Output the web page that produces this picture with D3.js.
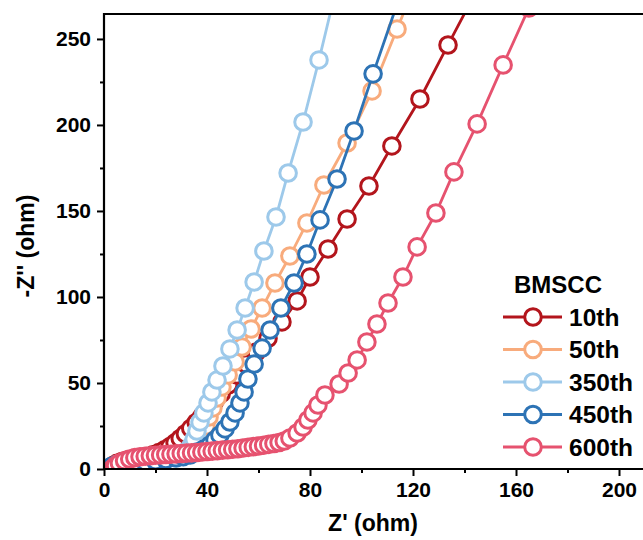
<!DOCTYPE html>
<html>
<head>
<meta charset="utf-8">
<script src="https://cdn.jsdelivr.net/npm/d3@7"></script>
<style>
  html, body { margin: 0; padding: 0; background: #fff; }
  svg text { font-family: "Liberation Sans", Arial, sans-serif; font-weight: bold; fill: #000; }
</style>
</head>
<body>
<svg id="chart" width="643" height="540"></svg>
<script>
// ---- data (Z', -Z'') ----
const seriesNames = ["10th", "50th", "350th", "450th", "600th"];
const seriesColors = ["#B3151C", "#F8AB7C", "#9DC9EA", "#2D73B5", "#E6526F"];

const s10th = [[2.5,0.5],[3.5,2],[5,3.3],[7,4.4],[9,5.2],[11.5,5.9],[14,6.5],[16.5,7.2],[19,8.2],[21.3,9.5],[23.5,11.1],[25.6,13],[27.6,15.2],[29.6,17.7],[31.6,20.5],[33.7,23.6],[35.8,27],[38,30.6],[40.3,34.6],[42.8,39],[45.5,43.8],[48.4,49],[51.6,54.7],[55.2,61],[59.2,68],[63.7,76],[69.1,85.5],[75,97.7],[80,111.6],[87,127.9],[94.4,145.3],[102.9,164.5],[111.8,187.8],[122.7,215.1],[133.6,246.5],[145,279]];

const s50th = [[3,0.3],[4,1.3],[5.5,2.4],[7.5,3.4],[10,4.2],[13,4.8],[16,5.3],[19,5.7],[22,6.1],[25,6.5],[28.7,7],[31.5,8.1],[33.8,9.9],[35.7,12.8],[37.3,16.3],[38.4,20.3],[39.6,25],[40.8,30.2],[42.3,35.5],[43.9,41.3],[45.8,47.7],[48.2,54.7],[50.9,62.2],[53.6,70.9],[57.1,81.4],[61.4,93.6],[66.4,108.1],[72.2,123.8],[78.8,143],[85.4,165.1],[94.4,189.5],[104.1,219.8],[113.8,255.8],[118,271]];

const s350th = [[2.5,0.3],[3.5,1.6],[5,2.7],[7,3.6],[9.5,4.3],[12.5,4.8],[15.5,5.2],[18.5,5.5],[21.5,5.8],[24.5,6.1],[28,6.4],[30.3,8.1],[32.2,10.5],[33.8,13.4],[35,17.4],[36.1,22.1],[37.3,27.3],[38.8,32.6],[40.4,38.4],[41.9,44.8],[43.9,51.7],[46.2,59.9],[48.9,69.8],[51.7,80.8],[54.8,93.6],[58.3,108.7],[62.1,126.7],[66.8,146.5],[71.5,172.1],[77.3,201.7],[83.5,237.8],[89,272]];

const s450th = [[1.5,0.4],[3,1.6],[5,2.6],[8,3.3],[12,3.8],[16,4.2],[20,4.8],[24,5.5],[28,6.5],[30.8,7.2],[33.4,8.1],[36.1,9.9],[38.8,11.6],[41.2,14],[43.1,16.9],[45,19.8],[47,23.3],[48.9,27.3],[50.9,32.6],[52.8,38.4],[54.4,44.8],[55.9,52.3],[58.3,61],[61.4,70.3],[64.5,80.8],[68.7,93.6],[73.8,108.1],[78.8,125],[83.9,144.8],[90.5,168.6],[97.1,196.5],[104.5,229.7],[114,271]];

const s600th = [[3.5,0.5],[4.5,2],[6,3.5],[8,4.8],[10,5.8],[12,6.6],[14,7.1],[16,7.4],[18,7.7],[20,8],[22,8.2],[24,8.4],[26,8.6],[28,8.8],[30,9],[32,9.2],[34,9.4],[36,9.6],[38,9.9],[40,10.2],[42,10.4],[44,10.7],[46,11],[48,11.2],[50,11.5],[52,11.8],[54,12.2],[56,12.6],[58,13],[60,13.4],[62,13.8],[64,14.3],[66,14.8],[68,15.4],[70,16.3],[72.2,18],[75,20.9],[77.3,24.4],[79.2,28.5],[81.2,32.6],[83.1,37.2],[85.8,43],[91.3,49.4],[94.8,55.8],[98.3,63.4],[102.1,73.8],[106,84.3],[110.3,96.5],[116.1,111.6],[121.6,129.1],[128.9,148.8],[135.9,172.7],[144.9,200.6],[155,234.9],[165,268]];

const allSeries = [s10th, s50th, s350th, s450th, s600th];

const xMajorTicks = [0, 40, 80, 120, 160, 200];
const xMinorTicks = [20, 60, 100, 140, 180];
const yMajorTicks = [0, 50, 100, 150, 200, 250];
const yMinorTicks = [25, 75, 125, 175, 225];
const xTitle = "Z' (ohm)";
const yTitle = "-Z'' (ohm)";
const legendTitle = "BMSCC";

(function draw() {
  // ---- layout ----
  const pL = 104, pT = 14, pB = 469;
  const x = d3.scaleLinear().domain([0, 210]).range([pL, pL + 2.575 * 210]);
  const y = d3.scaleLinear().domain([0, 264.5]).range([pB, pT]);
  const R = 8.3, SW = 3, LW = 2.8;

  const svg = d3.select("#chart");

  svg.append("defs").append("clipPath").attr("id", "plotclip")
    .append("rect").attr("x", pL).attr("y", pT)
    .attr("width", 643 - pL).attr("height", pB - pT);

  const plot = svg.append("g").attr("clip-path", "url(#plotclip)");
  const line = d3.line().x(d => x(d[0])).y(d => y(d[1]));

  allSeries.forEach((data, i) => {
    const g = plot.append("g");
    g.append("path").datum(data)
      .attr("d", line).attr("fill", "none")
      .attr("stroke", seriesColors[i]).attr("stroke-width", LW);
    g.selectAll("circle").data(data).join("circle")
      .attr("cx", d => x(d[0])).attr("cy", d => y(d[1]))
      .attr("r", R).attr("fill", "#fff")
      .attr("stroke", seriesColors[i]).attr("stroke-width", SW);
  });

  // ---- axes ----
  const xAxis = svg.append("g").attr("transform", `translate(0,${pB})`)
    .call(d3.axisBottom(x).tickValues(xMajorTicks).tickSize(7).tickPadding(6).tickFormat(d3.format("d")));
  const xMinor = svg.append("g").attr("transform", `translate(0,${pB})`)
    .call(d3.axisBottom(x).tickValues(xMinorTicks).tickSize(4).tickFormat(""));
  const yAxis = svg.append("g").attr("transform", `translate(${pL},0)`)
    .call(d3.axisLeft(y).tickValues(yMajorTicks).tickSize(7).tickPadding(6).tickFormat(d3.format("d")));
  const yMinor = svg.append("g").attr("transform", `translate(${pL},0)`)
    .call(d3.axisLeft(y).tickValues(yMinorTicks).tickSize(4).tickFormat(""));

  [xAxis, xMinor, yAxis, yMinor].forEach(a => {
    a.select(".domain").remove();
    a.selectAll(".tick line").attr("stroke", "#000").attr("stroke-width", 2);
    a.selectAll(".tick text").style("font-size", "21px");
  });

  // frame lines (left, bottom, top)
  svg.append("line").attr("x1", pL).attr("x2", pL).attr("y1", pT - 1).attr("y2", pB + 1)
    .attr("stroke", "#000").attr("stroke-width", 2.2);
  svg.append("line").attr("x1", pL - 1).attr("x2", 643).attr("y1", pB).attr("y2", pB)
    .attr("stroke", "#000").attr("stroke-width", 2.2);
  svg.append("line").attr("x1", pL - 1).attr("x2", 643).attr("y1", pT).attr("y2", pT)
    .attr("stroke", "#000").attr("stroke-width", 2.2);

  // axis titles
  svg.append("text").attr("x", 373).attr("y", 531).attr("text-anchor", "middle")
    .style("font-size", "23px").text(xTitle);
  svg.append("text").attr("transform", "translate(34,246) rotate(-90)").attr("text-anchor", "middle")
    .style("font-size", "23px").text(yTitle);

  // ---- legend ----
  const lg = svg.append("g");
  lg.append("text").attr("x", 558).attr("y", 293).attr("text-anchor", "middle")
    .style("font-size", "24px").text(legendTitle);
  seriesNames.forEach((name, i) => {
    const cy = 317 + i * 32.5;
    lg.append("line").attr("x1", 503).attr("x2", 562).attr("y1", cy).attr("y2", cy)
      .attr("stroke", seriesColors[i]).attr("stroke-width", LW);
    lg.append("circle").attr("cx", 533).attr("cy", cy).attr("r", R)
      .attr("fill", "#fff").attr("stroke", seriesColors[i]).attr("stroke-width", SW);
    lg.append("text").attr("x", 569).attr("y", cy + 8.5)
      .style("font-size", "24.5px").text(name);
  });
})();
</script>
</body>
</html>
